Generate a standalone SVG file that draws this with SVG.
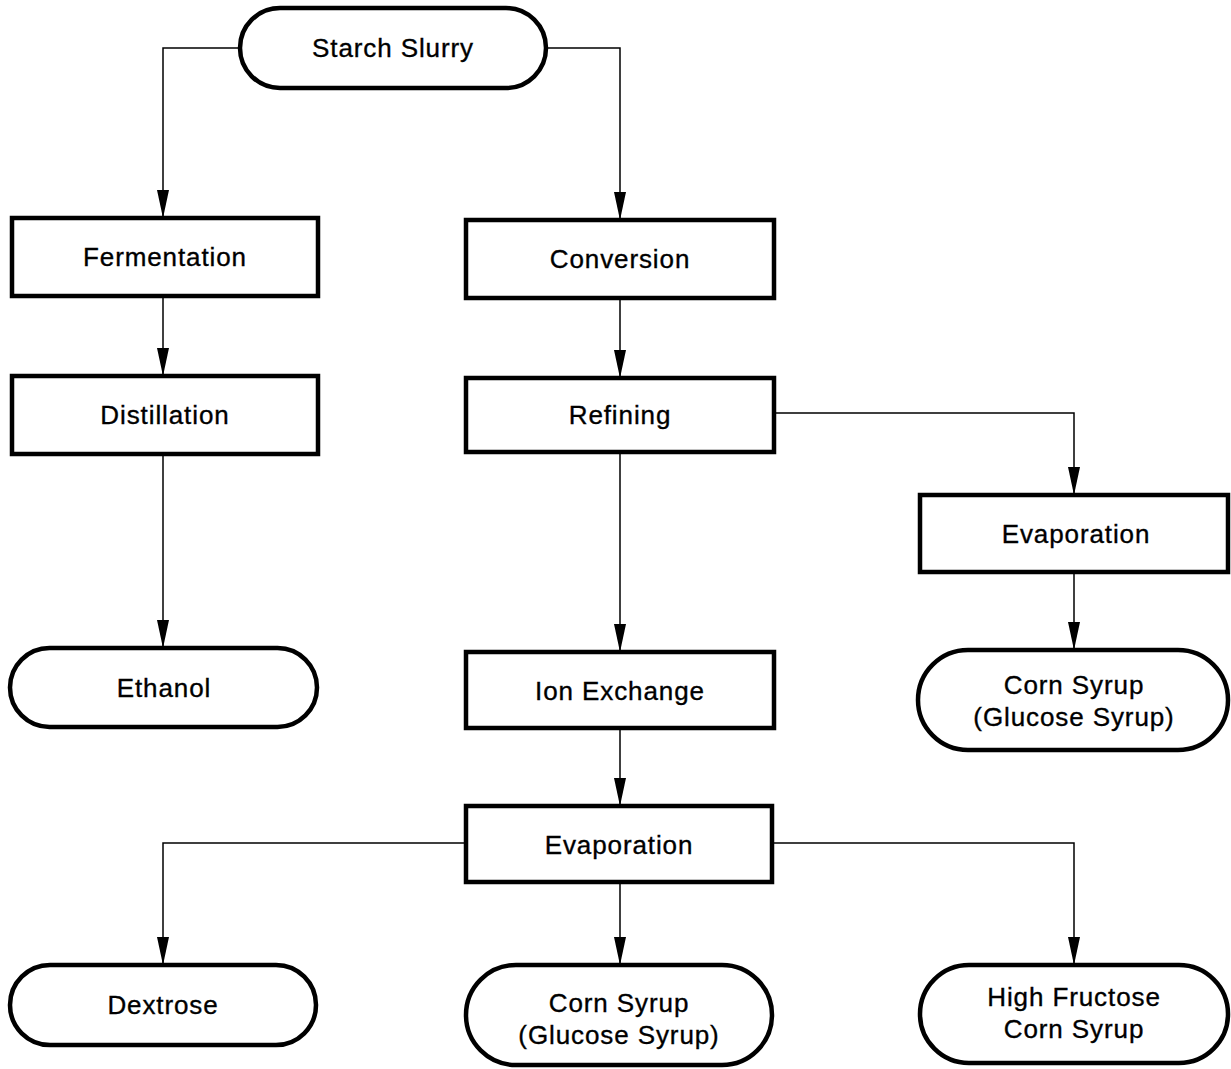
<svg xmlns="http://www.w3.org/2000/svg" width="1231" height="1069" viewBox="0 0 1231 1069">
<style>
.box{fill:#fff;stroke:#000;stroke-width:4.5}
.lbl{font-family:"Liberation Sans",Arial,sans-serif;font-size:26px;letter-spacing:0.9px;text-anchor:middle;fill:#000;stroke:#000;stroke-width:0.35}
.conn{fill:none;stroke:#000;stroke-width:1.5}
</style>
<defs>
<marker id="arr" viewBox="0 0 28 12" refX="28" refY="6" markerWidth="28" markerHeight="12" markerUnits="userSpaceOnUse" orient="auto">
<path d="M0,0 L28,6 L0,12 Z" fill="#000"/>
</marker>
</defs>
<g id="connectors">
<path class="conn" d="M240,48 H163 V218" marker-end="url(#arr)"/>
<path class="conn" d="M546,48 H620 V220" marker-end="url(#arr)"/>
<path class="conn" d="M163,296 V376" marker-end="url(#arr)"/>
<path class="conn" d="M620,298 V378" marker-end="url(#arr)"/>
<path class="conn" d="M163,454 V648" marker-end="url(#arr)"/>
<path class="conn" d="M620,452 V652" marker-end="url(#arr)"/>
<path class="conn" d="M774,413 H1074 V495" marker-end="url(#arr)"/>
<path class="conn" d="M1074,572 V650" marker-end="url(#arr)"/>
<path class="conn" d="M620,728 V806" marker-end="url(#arr)"/>
<path class="conn" d="M466,843 H163 V965" marker-end="url(#arr)"/>
<path class="conn" d="M620,882 V965" marker-end="url(#arr)"/>
<path class="conn" d="M772,843 H1074 V965" marker-end="url(#arr)"/>
</g>
<g id="starch-slurry">
<rect class="box" x="240" y="8" width="306" height="80" rx="40" ry="40"/>
<text class="lbl" x="393" y="57">Starch Slurry</text>
</g>
<g id="fermentation">
<rect class="box" x="12" y="218" width="306" height="78"/>
<text class="lbl" x="165" y="266">Fermentation</text>
</g>
<g id="conversion">
<rect class="box" x="466" y="220" width="308" height="78"/>
<text class="lbl" x="620" y="268">Conversion</text>
</g>
<g id="distillation">
<rect class="box" x="12" y="376" width="306" height="78"/>
<text class="lbl" x="165" y="424">Distillation</text>
</g>
<g id="refining">
<rect class="box" x="466" y="378" width="308" height="74"/>
<text class="lbl" x="620" y="424">Refining</text>
</g>
<g id="evaporation-right">
<rect class="box" x="920" y="495" width="308" height="77"/>
<text class="lbl" x="1076" y="543">Evaporation</text>
</g>
<g id="ethanol">
<rect class="box" x="10" y="648" width="307" height="79" rx="39.5" ry="39.5"/>
<text class="lbl" x="164" y="697">Ethanol</text>
</g>
<g id="ion-exchange">
<rect class="box" x="466" y="652" width="308" height="76"/>
<text class="lbl" x="620" y="700">Ion Exchange</text>
</g>
<g id="corn-syrup-right">
<rect class="box" x="918" y="650" width="310" height="100" rx="50" ry="50"/>
<text class="lbl" x="1074" y="694">Corn Syrup</text>
<text class="lbl" x="1074" y="726">(Glucose Syrup)</text>
</g>
<g id="evaporation-bottom">
<rect class="box" x="466" y="806" width="306" height="76"/>
<text class="lbl" x="619" y="854">Evaporation</text>
</g>
<g id="dextrose">
<rect class="box" x="10" y="965" width="306" height="80" rx="40" ry="40"/>
<text class="lbl" x="163" y="1014">Dextrose</text>
</g>
<g id="corn-syrup-bottom">
<rect class="box" x="466" y="965" width="306" height="100" rx="50" ry="50"/>
<text class="lbl" x="619" y="1012">Corn Syrup</text>
<text class="lbl" x="619" y="1044">(Glucose Syrup)</text>
</g>
<g id="hfcs">
<rect class="box" x="920" y="965" width="308" height="98" rx="49" ry="49"/>
<text class="lbl" x="1074" y="1006">High Fructose</text>
<text class="lbl" x="1074" y="1038">Corn Syrup</text>
</g>
</svg>
